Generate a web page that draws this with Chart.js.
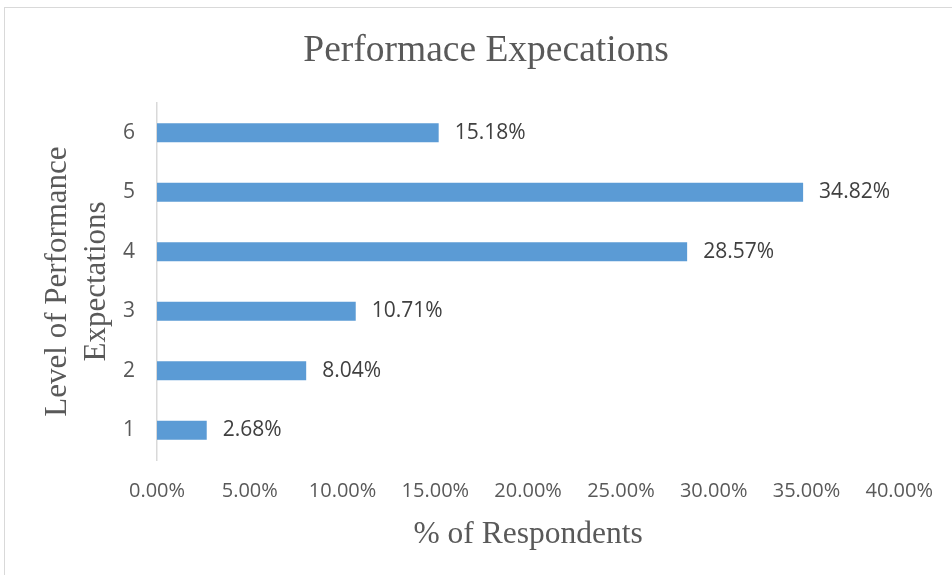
<!DOCTYPE html>
<html>
<head>
<meta charset="utf-8">
<script src="https://cdn.jsdelivr.net/npm/chart.js@4/dist/chart.umd.min.js"></script>
<style>
  html, body { margin: 0; padding: 0; background: #ffffff; }
  #frame { position: absolute; left: 4px; top: 7px; width: 1000px; height: 600px; border: 1px solid #d9d9d9; box-sizing: border-box; }
  #wrap { position: absolute; left: 0; top: 0; width: 952px; height: 575px; }
</style>
</head>
<body>
<div id="frame"></div>
<div id="wrap"><canvas id="chart" width="952" height="575"></canvas></div>
<script>
// Share of respondents at each level of performance expectations
const levels = ['1', '2', '3', '4', '5', '6'];
const respondentPct = [2.68, 8.04, 10.71, 28.57, 34.82, 15.18];
const xTickMin = 0;
const xTickMax = 40;
const xTickStep = 5;

const SERIF = '"Liberation Serif", "Times New Roman", serif';
const SANS = '"Open Sans", "Noto Sans", sans-serif';

// Writes each bar's value just past its end
const barValueLabels = {
  id: 'barValueLabels',
  afterDatasetsDraw(chart) {
    const ctx = chart.ctx;
    const meta = chart.getDatasetMeta(0);
    const values = chart.data.datasets[0].data;
    ctx.save();
    ctx.font = '21px ' + SANS;
    ctx.fillStyle = '#404040';
    ctx.textAlign = 'left';
    ctx.textBaseline = 'middle';
    meta.data.forEach((bar, i) => {
      ctx.fillText(values[i].toFixed(2) + '%', bar.x + 16, bar.y);
    });
    ctx.restore();
  }
};

// Centres the chart title over the whole frame rather than the padded layout box
const titleSpan = {
  id: 'titleSpan',
  afterLayout(chart) {
    if (chart.titleBlock) {
      chart.titleBlock.left = 20;
      chart.titleBlock.right = 952;
    }
  }
};

new Chart(document.getElementById('chart'), {
  type: 'bar',
  data: {
    labels: levels,
    datasets: [{
      data: respondentPct,
      backgroundColor: '#5b9bd5',
      borderWidth: 0,
      barPercentage: 0.32,
      categoryPercentage: 1.0
    }]
  },
  options: {
    indexAxis: 'y',
    responsive: false,
    animation: false,
    layout: { padding: { left: 0, right: 49, top: 0, bottom: 0 } },
    plugins: {
      legend: { display: false },
      tooltip: { enabled: false },
      title: {
        display: true,
        text: 'Performace Expecations',
        color: '#595959',
        font: { family: SERIF, size: 37.5, weight: 'normal', lineHeight: 1.2 },
        padding: { top: 29, bottom: 29 }
      }
    },
    scales: {
      x: {
        type: 'linear',
        min: xTickMin,
        max: xTickMax,
        grid: { display: false, drawTicks: false },
        border: { display: false },
        ticks: {
          stepSize: xTickStep,
          padding: 19,
          color: '#595959',
          font: { family: SANS, size: 20 },
          maxRotation: 0,
          callback: (v) => Number(v).toFixed(2) + '%'
        },
        title: {
          display: true,
          text: '% of Respondents',
          color: '#595959',
          font: { family: SERIF, size: 31.5, weight: 'normal', lineHeight: 1.2 },
          padding: { top: 0, bottom: 21 }
        },
        afterFit(scale) { scale.height = 115; }
      },
      y: {
        reverse: true,
        grid: { display: false, drawTicks: false },
        border: { display: true, color: '#d9d9d9', width: 1.5 },
        ticks: {
          padding: 22,
          color: '#595959',
          font: { family: SANS, size: 21 }
        },
        title: {
          display: true,
          text: ['Level of Performance', 'Expectations'],
          color: '#595959',
          font: { family: SERIF, size: 31, weight: 'normal', lineHeight: 1.25 },
          padding: { top: 38.6, bottom: 0 }
        },
        afterFit(scale) { scale.width = 157; }
      }
    }
  },
  plugins: [barValueLabels, titleSpan]
});
</script>
</body>
</html>
